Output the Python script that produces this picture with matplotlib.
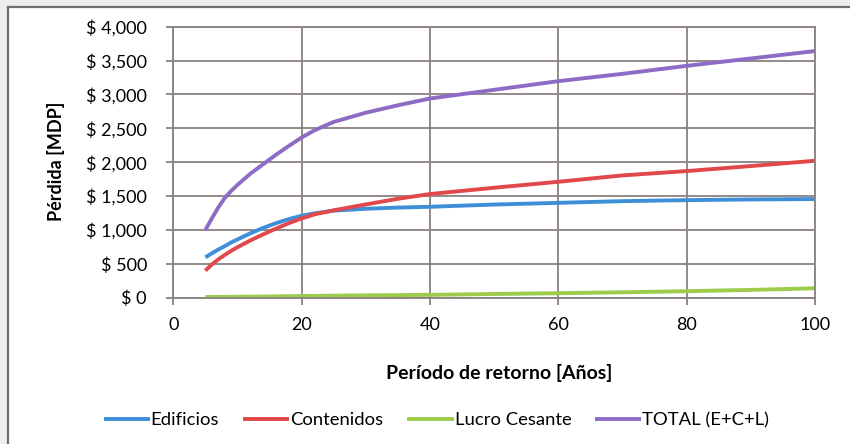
import matplotlib.pyplot as plt
from matplotlib.patches import Rectangle
from matplotlib.lines import Line2D
from matplotlib.ticker import FuncFormatter, MultipleLocator

plt.rcParams['font.family'] = ['Lato', 'DejaVu Sans']

# Periodo de retorno (años) y pérdidas en millones de pesos
periodo = [5, 6, 7, 8, 9, 10, 12, 14, 16, 18, 20, 22, 25, 30, 35, 40, 50, 60, 70, 80, 90, 100]
edificios = [595, 655, 710, 760, 815, 860, 950, 1030, 1100, 1160, 1210, 1245, 1285,
             1313, 1330, 1342, 1375, 1400, 1425, 1440, 1450, 1456]
contenidos = [400, 490, 565, 630, 690, 745, 845, 935, 1020, 1100, 1170, 1230, 1290,
              1377, 1460, 1530, 1623, 1711, 1805, 1869, 1943, 2021]
lucro = [10, 11, 11, 12, 13, 14, 16, 18, 20, 22, 25, 27, 30, 35, 38, 42, 55, 66, 80, 96, 115, 139]
total = [1000, 1170, 1330, 1470, 1575, 1665, 1830, 1970, 2110, 2240, 2365, 2470, 2595,
         2730, 2840, 2940, 3068, 3196, 3304, 3422, 3531, 3640]

series = [
    ('Edificios', edificios, '#3F8FD8'),
    ('Contenidos', contenidos, '#E2474B'),
    ('Lucro Cesante', lucro, '#9DCB4A'),
    ('TOTAL (E+C+L)', total, '#8E6CC6'),
]

fig = plt.figure(figsize=(8.5, 4.44), dpi=100, facecolor='#eeeeee')

# white panel with a gray frame on the left and top
W, H = 850, 444
fig.patches.append(Rectangle((8 / W, 0), 1, 1 - 7 / H, transform=fig.transFigure,
                             facecolor='white', edgecolor='none', zorder=-5))
fig.lines.append(Line2D([8 / W, 8 / W], [0, 1 - 7 / H], transform=fig.transFigure,
                        color='#6e6e6e', lw=1.6, zorder=-4))
fig.lines.append(Line2D([8 / W, 1], [1 - 7 / H, 1 - 7 / H], transform=fig.transFigure,
                        color='#6e6e6e', lw=1.6, zorder=-4))

ax = fig.add_axes([0.2039, 0.3295, 0.9588 - 0.2039, 0.9399 - 0.3295])
ax.set_facecolor('white')

for name, vals, col in series:
    ax.plot(periodo, vals, color=col, lw=2.8, label=name, solid_capstyle='butt',
            solid_joinstyle='round')

ax.set_xlim(0, 100)
ax.set_ylim(0, 4000)
ax.xaxis.set_major_locator(MultipleLocator(20))
ax.yaxis.set_major_locator(MultipleLocator(500))
ax.yaxis.set_major_formatter(FuncFormatter(lambda v, p: f'$ {int(v):,}'))

grid_col = '#8a8180'
ax.grid(True, color=grid_col, lw=1.3)
ax.set_axisbelow(True)
for s in ax.spines.values():
    s.set_color(grid_col)
    s.set_linewidth(1.3)
ax.tick_params(axis='both', colors=grid_col, length=5, width=1.3,
               labelcolor='black', labelsize=13)
ax.tick_params(axis='x', pad=9)
ax.tick_params(axis='y', pad=14)

fig.text(499 / W, 1 - 373 / H, 'Período de retorno [Años]', fontsize=14,
         fontweight='bold', ha='center', va='center')
fig.text(56 / W, 1 - 161 / H, 'Pérdida [MDP]', fontsize=13, fontweight='bold',
         rotation=90, ha='center', va='center')

fig.legend(loc='center', bbox_to_anchor=(436.5 / W, 1 - 420 / H), ncol=4, frameon=False,
           fontsize=13.3, handlelength=2.5, handletextpad=0.05, columnspacing=1.3)

fig.savefig('out.png', dpi=100, facecolor=fig.get_facecolor())
